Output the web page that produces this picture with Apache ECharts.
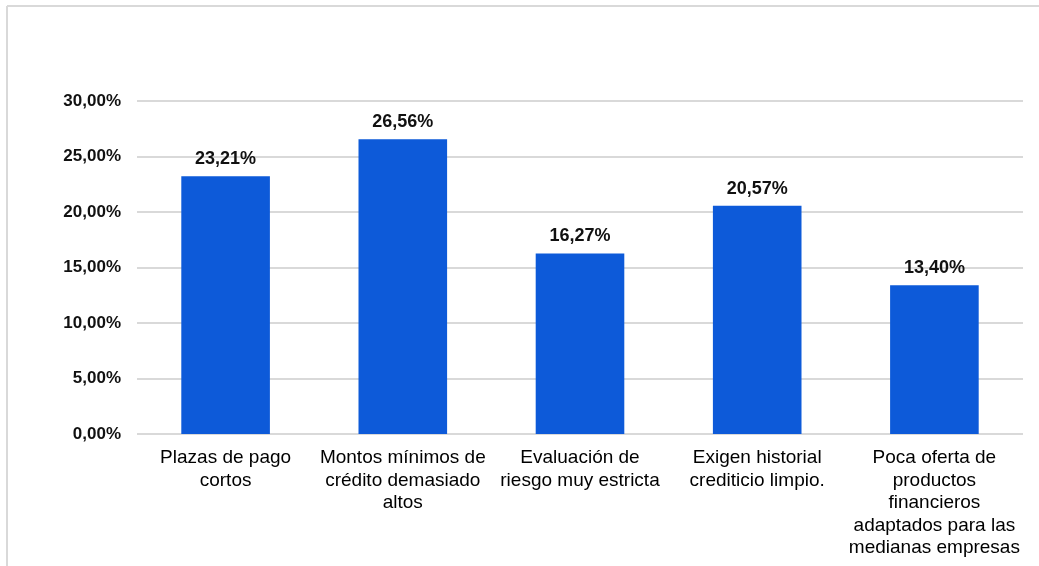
<!DOCTYPE html>
<html>
<head>
<meta charset="utf-8">
<script src="https://cdn.jsdelivr.net/npm/echarts@6/dist/echarts.min.js"></script>
<style>
html,body{margin:0;padding:0;background:#fff;}
#chart{width:1039px;height:566px;}
</style>
</head>
<body>
<div id="chart"></div>
<script>
const categories = [
  "Plazas de pago\ncortos",
  "Montos mínimos de\ncrédito demasiado\naltos",
  "Evaluación de\nriesgo muy estricta",
  "Exigen historial\ncrediticio limpio.",
  "Poca oferta de\nproductos\nfinancieros\nadaptados para las\nmedianas empresas"
];
const values = [23.21, 26.56, 16.27, 20.57, 13.40];
const yMin = 0, yMax = 30, yStep = 5;

function pct(v){ return v.toFixed(2).replace('.', ',') + '%'; }

const chart = echarts.init(document.getElementById('chart'), null, {renderer:'canvas'});
chart.setOption({
  backgroundColor: '#ffffff',
  animation: false,
  textStyle: { fontFamily: 'Liberation Sans, Arial, sans-serif' },
  grid: { left: 137, right: 16, top: 101, bottom: 132, containLabel: false },
  graphic: [
    { type: 'line', shape: { x1: 7, y1: 6, x2: 1039, y2: 6 }, style: { stroke: '#d9d9d9', lineWidth: 2 } },
    { type: 'line', shape: { x1: 7, y1: 6, x2: 7, y2: 566 }, style: { stroke: '#d9d9d9', lineWidth: 2 } }
  ],
  xAxis: {
    type: 'category',
    data: categories,
    axisLine: { show: false },
    axisTick: { show: false },
    axisLabel: {
      interval: 0,
      margin: 13,
      color: '#000',
      fontSize: 19,
      lineHeight: 22.5,
      align: 'center'
    }
  },
  yAxis: {
    type: 'value',
    min: yMin, max: yMax, interval: yStep,
    axisLine: { show: false },
    axisTick: { show: false },
    splitLine: { lineStyle: { color: '#d9d9d9', width: 2 } },
    axisLabel: {
      formatter: pct,
      margin: 16,
      color: '#111',
      fontSize: 17,
      fontWeight: 'bold'
    }
  },
  series: [{
    type: 'bar',
    data: values,
    barWidth: '50%',
    itemStyle: { color: '#0d5ad9' },
    label: {
      show: true,
      position: 'top',
      distance: 8,
      formatter: p => pct(p.value),
      color: '#111',
      fontSize: 18,
      fontWeight: 'bold'
    }
  }]
});
</script>
</body>
</html>
